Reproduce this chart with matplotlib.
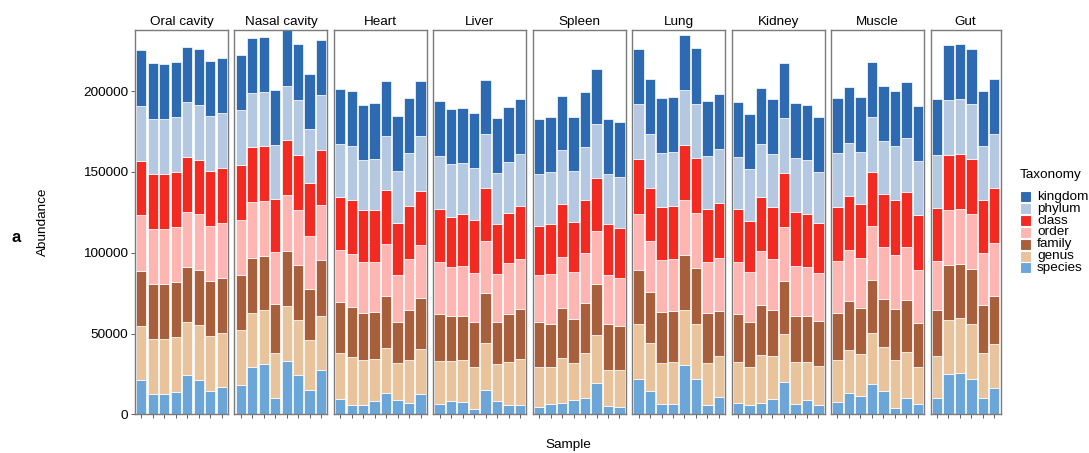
import matplotlib
matplotlib.use('Agg')
import matplotlib.pyplot as plt
from matplotlib.patches import Rectangle
import numpy as np

plt.rcParams['font.family'] = ['Liberation Sans', 'DejaVu Sans']

#============================DATA============================
tissues = ['Oral cavity', 'Nasal cavity', 'Heart', 'Liver', 'Spleen',
           'Lung', 'Kidney', 'Muscle', 'Gut']
n_samples = [8, 8, 8, 8, 8, 8, 8, 8, 6]

levels = ['kingdom', 'phylum', 'class', 'order', 'family', 'genus', 'species']
colors = ['#2D6AB1', '#B4C8E2', '#F22A22', '#FFB5B2', '#A8603C', '#E8C39C', '#6CA5D7']

# one value per sample, tissues in the order above
species = [21000, 12700, 12600, 13800, 24300, 21200, 14200, 16700,
           18100, 29300, 30900, 10300, 33000, 24300, 15200, 27600,
           9300, 5900, 5900, 8200, 13200, 8700, 7000, 12400,
           6200, 8200, 7800, 3500, 15200, 8200, 5600, 5900,
           4500, 6400, 7200, 8800, 9900, 19400, 4900, 4500,
           21700, 14600, 6200, 6600, 30500, 22000, 5600, 10900,
           7000, 5600, 7000, 9700, 20200, 6400, 8700, 5900,
           7800, 13200, 11100, 18600, 14200, 3700, 9900, 6600,
           10100, 24900, 25700, 21800, 10100, 16500]
genus = [33800, 33800, 33800, 33800, 32600, 34000, 34000, 33400,
         34000, 33600, 33600, 27800, 34200, 34000, 30600, 33400,
         28500, 29700, 27500, 26200, 28000, 23300, 26600, 27800,
         26800, 24600, 25600, 25600, 28700, 22700, 27000, 28300,
         24600, 23100, 27500, 22700, 28200, 29900, 22300, 22700,
         34000, 29300, 25700, 25600, 34000, 33800, 26000, 25000,
         25500, 23900, 29900, 26200, 29700, 26200, 23900, 23800,
         25600, 26400, 26200, 31500, 27600, 29900, 28600, 22500,
         25800, 33600, 33800, 34000, 28000, 27000]
family = [34000, 34200, 34200, 34200, 34200, 34200, 34200, 34400,
          34000, 34000, 33600, 30100, 34000, 34000, 31700, 34300,
          31500, 30600, 29100, 28700, 32000, 25200, 30900, 31500,
          29300, 28200, 27600, 27800, 30900, 26400, 29700, 30700,
          28000, 26400, 30900, 27400, 30600, 31200, 28600, 27600,
          33800, 31500, 31200, 31500, 34000, 34500, 30900, 28200,
          29700, 27800, 30700, 28600, 32600, 28100, 28500, 27800,
          29300, 30500, 28300, 32800, 29700, 31400, 32000, 27400,
          28600, 33800, 33800, 34000, 29500, 29700]
order = [34300, 34000, 34000, 34000, 34000, 34300, 34200, 34000,
         34200, 34300, 33800, 32000, 34300, 34200, 32800, 34200,
         32500, 33000, 31500, 30900, 32400, 29100, 31700, 32800,
         31800, 29900, 30600, 30500, 32400, 29300, 31200, 31500,
         29300, 30700, 31900, 28900, 31300, 32800, 30300, 29300,
         34300, 31700, 32500, 32400, 34000, 34000, 31900, 32800,
         31800, 30900, 33200, 31700, 33200, 31100, 30100, 29700,
         32200, 31500, 31300, 33400, 32000, 33400, 33200, 33000,
         30300, 34200, 34000, 34200, 32400, 33000]
klass = [34000, 34300, 34300, 34200, 34000, 34000, 34000, 33800,
         34000, 34000, 34000, 33000, 34200, 34300, 33000, 34200,
         32800, 33200, 32200, 32200, 33200, 32000, 32800, 33800,
         32800, 31500, 32200, 32600, 32800, 31100, 31300, 32400,
         30300, 31500, 32800, 31300, 32600, 33000, 31500, 31100,
         34000, 33200, 32800, 33000, 34500, 34200, 32600, 33800,
         32800, 31500, 33600, 32400, 33800, 33600, 33000, 31500,
         33400, 33400, 33000, 33800, 33000, 34000, 33800, 33800,
         32800, 34300, 34000, 34300, 32800, 33700]
phylum = [34000, 34000, 34000, 34000, 34000, 34000, 34000, 34000,
          34300, 33600, 33400, 33600, 33800, 34000, 33200, 33800,
          33000, 33600, 31500, 31900, 33400, 32500, 32800, 33800,
          33000, 32500, 31700, 32500, 33200, 31400, 31400, 32200,
          32000, 31700, 33000, 31200, 33000, 33200, 31400, 31700,
          34000, 33000, 33400, 33200, 34000, 33800, 32800, 33400,
          32200, 32000, 33200, 32800, 33800, 33000, 33000, 31500,
          33200, 33000, 32500, 33800, 32600, 33600, 33600, 33400,
          33200, 34000, 33800, 34000, 33200, 33400]
kingdom = [34200, 34200, 34200, 34300, 34200, 34200, 34300, 34200,
           34000, 34200, 34000, 34000, 34200, 34200, 34000, 34200,
           34000, 34000, 34000, 34300, 34000, 34000, 34000, 34200,
           34000, 34300, 34200, 33800, 34000, 34200, 34200, 34000,
           34000, 34000, 34000, 34000, 33800, 34000, 34000, 34000,
           34200, 34500, 34300, 34200, 34000, 34200, 34000, 34000,
           34400, 34000, 34200, 34000, 34000, 34000, 34000, 34000,
           34200, 34300, 34300, 34000, 34000, 34200, 34300, 34200,
           34200, 34000, 34000, 34000, 34200, 34000]

y_ticks = [0, 50000, 100000, 150000, 200000]
#=======================================================================

# stacking order from bottom to top
stack = [('species', species), ('genus', genus), ('family', family),
         ('order', order), ('class', klass), ('phylum', phylum),
         ('kingdom', kingdom)]
col = dict(zip(levels, colors))

totals = np.sum([np.array(v) for _, v in stack], axis=0)
ymax = totals.max()

W, H = 1089, 453
fig = plt.figure(figsize=(W / 100, H / 100), dpi=100)

left0 = 135
unit = 11.48
step = 99.45
top_px, bot_px = 30.3, 414.3
fs = 9.7

start = 0
for k, (tissue, n) in enumerate(zip(tissues, n_samples)):
    width_px = (n + 0.1) * unit
    ax = fig.add_axes([(left0 + k * step) / W, 1 - bot_px / H,
                       width_px / W, (bot_px - top_px) / H])
    x = np.arange(1, n + 1)
    bottom = np.zeros(n)
    for name, vals in stack:
        v = np.array(vals[start:start + n])
        ax.bar(x, v, width=0.9, bottom=bottom, color=col[name],
               edgecolor='white', linewidth=0.5)
        bottom += v
    start += n
    ax.set_xlim(0.45, n + 0.55)
    ax.set_ylim(0, ymax)
    ax.set_xticks(x)
    ax.set_xticklabels([])
    ax.tick_params(axis='x', length=3, width=0.6, color='#444444')
    for s in ax.spines.values():
        s.set_color('#7a7a7a')
        s.set_linewidth(1.0)
    ax.set_title(tissue, fontsize=fs, pad=4)
    if k == 0:
        ax.set_yticks(y_ticks)
        ax.set_yticklabels([str(t) for t in y_ticks], fontsize=fs)
        ax.tick_params(axis='y', length=3, width=0.6, color='#444444', pad=2)
    else:
        ax.set_yticks([])

fig.text(43 / W, 1 - 222 / H, 'Abundance', rotation=90, ha='center',
         va='center', fontsize=fs)
fig.text(568 / W, 1 - 445 / H, 'Sample', ha='center', va='center', fontsize=fs)
fig.text(16 / W, 1 - 237 / H, 'a', ha='center', va='center', fontsize=12,
         fontweight='bold')

# legend
fig.text(1020 / W, 1 - 175 / H, 'Taxonomy', ha='left', va='center', fontsize=fs)
for i, lvl in enumerate(levels):
    yc = 197 + i * 11.8
    fig.patches.append(Rectangle((1020 / W, 1 - (yc + 5.5) / H), 11 / W, 11 / H,
                                 transform=fig.transFigure, facecolor=col[lvl],
                                 edgecolor='white', linewidth=0.8))
    fig.text(1037 / W, 1 - yc / H, lvl, ha='left', va='center', fontsize=fs)

fig.savefig('out.png', dpi=100)
